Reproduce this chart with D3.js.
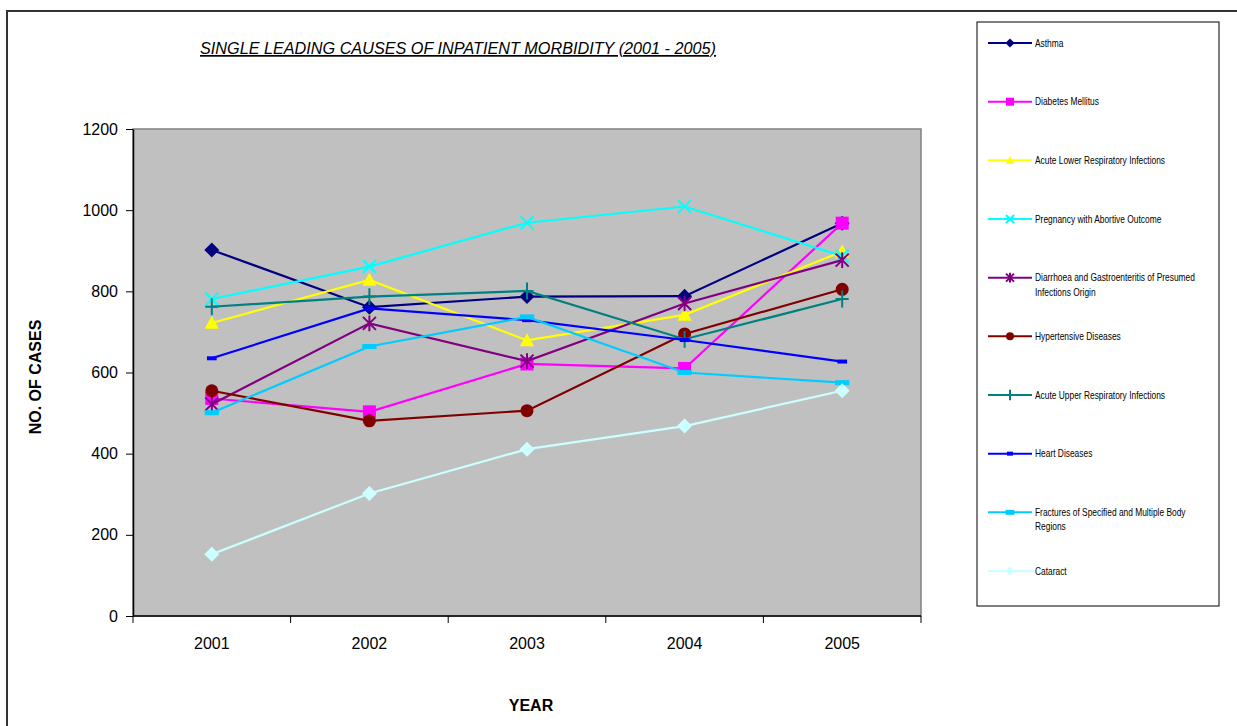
<!DOCTYPE html>
<html><head><meta charset="utf-8">
<script src="https://cdn.jsdelivr.net/npm/d3@7/dist/d3.min.js"></script>
<style>
body{margin:0;background:#fff;}
text{font-family:"Liberation Sans",Arial,sans-serif;}
</style></head>
<body><svg id="c" width="1237" height="726"></svg>
<script>
const years = ["2001","2002","2003","2004","2005"];
const yTicks = [0,200,400,600,800,1000,1200];
const seriesNames = ["Asthma","Diabetes Mellitus","Acute Lower Respiratory Infections","Pregnancy with Abortive Outcome","Diarrhoea and Gastroenteritis of Presumed Infections Origin","Hypertensive Diseases","Acute Upper Respiratory Infections","Heart Diseases","Fractures of Specified and Multiple Body Regions","Cataract"];
const asthma       = [902, 761, 787, 788, 968];
const diabetes     = [536, 503, 621, 610, 968];
const acuteLower   = [722, 828, 679, 742, 898];
const pregnancy    = [781, 861, 969, 1009, 887];
const diarrhoea    = [522, 721, 628, 770, 877];
const hypertensive = [555, 481, 506, 695, 805];
const acuteUpper   = [762, 787, 801, 682, 781];
const heart        = [635, 758, 729, 680, 627];
const fractures    = [501, 664, 737, 600, 575];
const cataract     = [152, 302, 411, 468, 555];
const seriesValues = [asthma,diabetes,acuteLower,pregnancy,diarrhoea,hypertensive,acuteUpper,heart,fractures,cataract];
const colors  = ["#000080","#FF00FF","#FFFF00","#00FFFF","#800080","#800000","#008080","#0000FF","#00CCFF","#CCFFFF"];
const markers = ["diamond","square","triangle","x","star","circle","plus","dash","longdash","diamond"];
const legendLines = [["Asthma"],["Diabetes Mellitus"],["Acute Lower Respiratory Infections"],["Pregnancy with Abortive Outcome"],["Diarrhoea and Gastroenteritis of Presumed","Infections Origin"],["Hypertensive Diseases"],["Acute Upper Respiratory Infections"],["Heart Diseases"],["Fractures of Specified and Multiple Body","Regions"],["Cataract"]];

const svg = d3.select("#c");
// outer chart border
svg.append("rect").attr("x",7).attr("y",11).attr("width",1240).attr("height",730)
  .attr("fill","none").attr("stroke","#333").attr("stroke-width",2);

const L=133,R=921,T=129,B=616;
const x = d3.scaleBand().domain(years).range([L,R]);
const y = d3.scaleLinear().domain([0,1200]).range([B,T]);
const cx = d => x(d)+x.bandwidth()/2;

// plot area
svg.append("rect").attr("x",L).attr("y",T).attr("width",R-L).attr("height",B-T)
  .attr("fill","#C0C0C0").attr("stroke","#808080").attr("stroke-width",1.5);

// y axis
const ya = svg.append("g").attr("transform",`translate(${L},0)`)
  .call(d3.axisLeft(y).tickValues(yTicks).tickFormat(d3.format("d")).tickSize(7).tickSizeOuter(0).tickPadding(8));
ya.select(".domain").attr("stroke","#000").attr("stroke-width",1.5);
ya.selectAll(".tick line").attr("stroke","#000");
ya.selectAll(".tick text").attr("font-size",16).attr("fill","#000").attr("font-family","Liberation Sans, Arial, sans-serif");

// x axis
const xg = svg.append("g");
xg.append("line").attr("x1",L).attr("x2",R).attr("y1",B).attr("y2",B).attr("stroke","#000").attr("stroke-width",1.5);
const bounds = years.map(d=>x(d)).concat([R]);
xg.selectAll("line.t").data(bounds).join("line").attr("class","t")
  .attr("x1",d=>d).attr("x2",d=>d).attr("y1",B).attr("y2",B+7).attr("stroke","#000");
xg.selectAll("text").data(years).join("text")
  .attr("x",d=>cx(d)).attr("y",649).attr("text-anchor","middle").attr("font-size",16).text(d=>d);

// titles
svg.append("text").attr("x",458).attr("y",54).attr("text-anchor","middle")
  .attr("font-size",17).attr("font-style","italic").attr("text-decoration","underline")
  .attr("textLength",516).attr("lengthAdjust","spacingAndGlyphs")
  .text("SINGLE LEADING CAUSES OF INPATIENT MORBIDITY (2001 - 2005)");
svg.append("text").attr("x",531).attr("y",711).attr("text-anchor","middle")
  .attr("font-size",16).attr("font-weight","bold").text("YEAR");
svg.append("text").attr("transform","translate(41,377) rotate(-90)").attr("text-anchor","middle")
  .attr("font-size",16).attr("font-weight","bold").text("NO. OF CASES");

function drawMarker(g, type, color, s){
  const h=s/2;
  if(type==="diamond") g.append("path").attr("d",`M0,${-h*1.15}L${h*1.15},0L0,${h*1.15}L${-h*1.15},0Z`).attr("fill",color);
  else if(type==="square") g.append("rect").attr("x",-h).attr("y",-h).attr("width",s).attr("height",s).attr("fill",color);
  else if(type==="triangle") g.append("path").attr("d",`M0,${-h*1.1}L${h*1.1},${h*0.9}L${-h*1.1},${h*0.9}Z`).attr("fill",color);
  else if(type==="circle") g.append("circle").attr("r",h).attr("fill",color);
  else if(type==="x") g.append("path").attr("d",`M${-h},${-h}L${h},${h}M${-h},${h}L${h},${-h}`).attr("stroke",color).attr("stroke-width",2).attr("fill","none");
  else if(type==="star") g.append("path").attr("d",`M${-h},${-h}L${h},${h}M${-h},${h}L${h},${-h}M0,${-h*1.2}L0,${h*1.2}`).attr("stroke",color).attr("stroke-width",2).attr("fill","none");
  else if(type==="plus") g.append("path").attr("d",`M${-h},0L${h},0M0,${-h*1.3}L0,${h*1.3}`).attr("stroke",color).attr("stroke-width",2).attr("fill","none");
  else if(type==="dash") g.append("rect").attr("x",-h*0.75).attr("y",-2).attr("width",s*0.75).attr("height",4).attr("fill",color);
  else if(type==="longdash") g.append("rect").attr("x",-h*1.1).attr("y",-2.5).attr("width",s*1.1).attr("height",5).attr("fill",color);
}

const line = d3.line().x((d,i)=>cx(years[i])).y(d=>y(d));
seriesValues.forEach((vals,si)=>{
  const g = svg.append("g");
  g.append("path").attr("d",line(vals)).attr("fill","none").attr("stroke",colors[si]).attr("stroke-width",2.2);
  vals.forEach((v,i)=>{
    const m = g.append("g").attr("transform",`translate(${cx(years[i])},${y(v)})`);
    drawMarker(m, markers[si], colors[si], 13);
  });
});

// legend
svg.append("rect").attr("x",977).attr("y",22).attr("width",242).attr("height",584)
  .attr("fill","#fff").attr("stroke","#000").attr("stroke-width",1);
const legY = d3.scaleLinear().domain([0,9]).range([43,571]);
seriesNames.forEach((n,i)=>{
  const yy = legY(i);
  const g = svg.append("g");
  g.append("line").attr("x1",988).attr("x2",1032).attr("y1",yy).attr("y2",yy).attr("stroke",colors[i]).attr("stroke-width",2);
  const m = g.append("g").attr("transform",`translate(1010,${yy})`);
  drawMarker(m, markers[i], colors[i], 8);
  const t = g.append("text").attr("transform",`translate(1035,${yy+3.5}) scale(0.84,1)`).attr("font-size",10).attr("fill","#000");
  legendLines[i].forEach((s,k)=>t.append("tspan").attr("x",0).attr("dy",k?14.5:0).text(s));
});
</script></body></html>
